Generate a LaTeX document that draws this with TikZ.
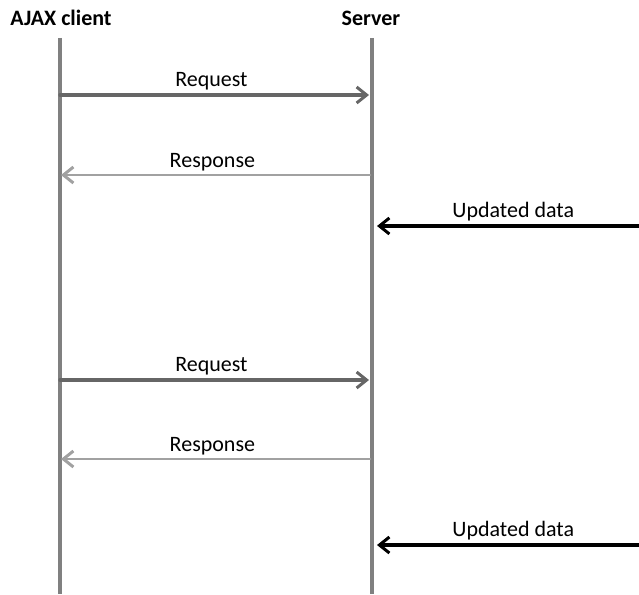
\documentclass[tikz,border=0pt]{standalone}
\usepackage{fontspec}
\setmainfont{Carlito}
\usetikzlibrary{arrows.meta}

\begin{document}
\begin{tikzpicture}[
        x=1pt, y=-1pt,
        line cap=round, line join=round,
        lifeline/.style={draw=black!50, line width=3.5pt, line cap=butt},
        msg/.style={color=#1, line width=3pt,
            -{Straight Barb[length=10pt, width=16pt, line width=3pt]}},
        lbl/.style={font=\fontsize{22}{26}\selectfont, inner sep=1pt}
    ]
    \useasboundingbox (0,0) rectangle (639,594);
    \node[lbl, font=\fontsize{22}{26}\selectfont\bfseries] (client) at (61,18) {AJAX client};
    \node[lbl, font=\fontsize{22}{26}\selectfont\bfseries] (server) at (371,18) {Server};
    \coordinate (ctop) at (60,38);
    \coordinate (cbot) at (60,594);
    \coordinate (stop) at (372,38);
    \coordinate (sbot) at (372,594);
    \draw[lifeline] (ctop) -- (cbot);
    \draw[lifeline] (stop) -- (sbot);
    % two request/response rounds
    \foreach \n/\r/\s/\u in {1/95/175/226, 2/380/459/545} {
        \coordinate (c req\n) at (60,\r);
        \coordinate (s req\n) at (369,\r);
        \coordinate (s resp\n) at (370,\s);
        \coordinate (c resp\n) at (61,\s);
        \coordinate (ext\n) at (639,\u);
        \coordinate (s upd\n) at (377,\u);
        \draw[msg=black!60, line width=3.5pt] (c req\n) -- node[lbl, above=2pt, pos=0.49, text=black] (req\n) {Request} (s req\n);
        \draw[msg=black!37, line width=2.5pt] (s resp\n) -- node[lbl, above=2pt, pos=0.51, text=black] (resp\n) {Response} (c resp\n);
        \draw[msg=black, line width=3.5pt] (ext\n) -- node[lbl, above=2pt, pos=0.48] (upd\n) {Updated data} (s upd\n);
    }
\end{tikzpicture}
\end{document}
